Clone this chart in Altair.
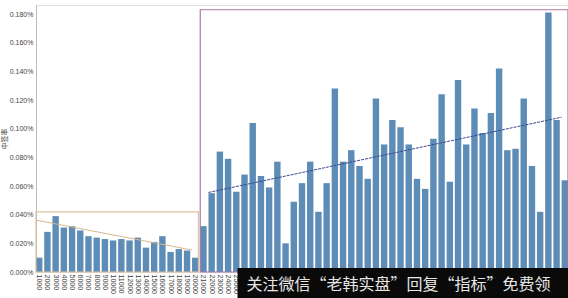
import altair as alt
import pandas as pd

categories = ["1000", "2000", "3000", "4000", "5000", "6000", "7000", "8000", "9000", "10000",
              "11000", "12000", "13000", "14000", "15000", "16000", "17000", "18000", "19000", "20000",
              "21000", "22000", "23000", "24000", "25000", "26000", "27000", "28000", "29000", "30000",
              "31000", "32000", "33000", "34000", "35000", "36000", "37000", "38000", "39000", "40000",
              "41000", "42000", "43000", "44000", "45000", "46000", "47000", "48000", "49000", "50000",
              "51000", "52000", "53000", "54000", "55000", "56000", "57000", "58000", "59000", "60000",
              "61000", "62000", "63000", "64000", "65000"]
# 中签率 in percent
values = [0.010, 0.028, 0.039, 0.031, 0.032, 0.029, 0.025, 0.024, 0.023, 0.022,
          0.023, 0.022, 0.024, 0.017, 0.021, 0.025, 0.014, 0.016, 0.015, 0.010,
          0.032, 0.055, 0.084, 0.079, 0.056, 0.068, 0.104, 0.067, 0.059, 0.077,
          0.020, 0.049, 0.062, 0.077, 0.042, 0.062, 0.128, 0.077, 0.085, 0.074,
          0.065, 0.121, 0.089, 0.106, 0.101, 0.089, 0.065, 0.058, 0.093, 0.124,
          0.063, 0.134, 0.089, 0.114, 0.097, 0.111, 0.142, 0.085, 0.086, 0.121,
          0.074, 0.042, 0.181, 0.106, 0.064]
y_ticks = [0.0, 0.02, 0.04, 0.06, 0.08, 0.10, 0.12, 0.14, 0.16, 0.18]

# highlight boxes (start category, end category, top value)
box_start = ["1000", "21000"]
box_end = ["20000", "65000"]
box_top = [0.042, 0.183]
box_color = ["#dcc29c", "#a97aa8"]

# trend lines
trend_left_x = ["1000", "20000"]
trend_left_y = [0.0362, 0.0153]
trend_right_x = ["22000", "65000"]
trend_right_y = [0.0555, 0.108]

watermark = "关注微信“老韩实盘”回复“指标”免费领"

df = pd.DataFrame({"cat": categories, "v": values})
boxes = pd.DataFrame({"s": box_start, "e": box_end, "top": box_top, "c": box_color, "zero": [0, 0]})
tl = pd.DataFrame({"cat": trend_left_x, "v": trend_left_y})
tr = pd.DataFrame({"cat": trend_right_x, "v": trend_right_y})

xscale = alt.Scale(domain=categories, paddingInner=0.22, paddingOuter=0.0)
yscale = alt.Scale(domain=[0, 0.1863], nice=False)

xaxis = alt.Axis(labelAngle=90, labelFontSize=7, labelColor="#444", ticks=False,
                 domain=False, labelPadding=2, title=None, labelFont="Liberation Sans",
                 labelBaseline="middle", labelAlign="left", labelOverlap=False)
yaxis = alt.Axis(values=y_ticks, tickCount=10, labelExpr="format(datum.value, '.3f') + '%'",
                 labelFontSize=7, labelColor="#444", ticks=False, domainColor="#bbbbbb",
                 grid=False, title="中签率", titleFontSize=7, titleFontWeight="normal",
                 titleColor="#444", titlePadding=2, labelPadding=3, labelFont="Liberation Sans",
                 titleFont="Noto Sans CJK SC", labelOverlap=False, labelBound=False,
                 labelSeparation=0)

bars = alt.Chart(df).mark_bar(color="#5d8cb6").encode(
    x=alt.X("cat:O", scale=xscale, axis=xaxis, sort=categories),
    y=alt.Y("v:Q", scale=yscale, axis=yaxis),
)

rects = alt.Chart(boxes).mark_rect(fill=None, strokeWidth=1.2).encode(
    x=alt.X("s:O", scale=xscale, bandPosition=0, sort=categories, axis=xaxis),
    x2=alt.X2("e", bandPosition=1),
    y=alt.Y("top:Q", scale=yscale, axis=yaxis),
    y2=alt.Y2("zero"),
    stroke=alt.Stroke("c:N", scale=None),
)

line_l = alt.Chart(tl).mark_line(color="#d8b88e", strokeWidth=1).encode(
    x=alt.X("cat:O", scale=xscale, bandPosition=0, sort=categories, axis=xaxis),
    y=alt.Y("v:Q", scale=yscale, axis=yaxis),
)
line_r = alt.Chart(tr).mark_line(color="#3d4790", strokeWidth=1, strokeDash=[3, 1]).encode(
    x=alt.X("cat:O", scale=xscale, bandPosition=0, sort=categories, axis=xaxis),
    y=alt.Y("v:Q", scale=yscale, axis=yaxis),
)

wm_bg = alt.Chart(pd.DataFrame({"a": [0]})).mark_rect(color="#0a0a0a", clip=False).encode(
    x=alt.value(201.5), x2=alt.value(532), y=alt.value(263), y2=alt.value(293)
)
wm_text = alt.Chart(pd.DataFrame({"t": [watermark]})).mark_text(
    align="left", baseline="middle", fontSize=16, color="#e6e6e6",
    font="Noto Sans CJK SC", clip=False
).encode(x=alt.value(210.5), y=alt.value(280), text="t:N")

chart = alt.layer(bars, rects, line_l, line_r, wm_bg, wm_text).properties(
    width=532, height=267,
    autosize=alt.AutoSizeParams(type="none"),
    padding={"left": 36, "top": 5, "right": 0, "bottom": 26},
).configure_view(stroke=None).configure(background="white").configure_axis(
    labelOverlap=False
)

chart.save("out.html", embed_options={"renderer": "svg", "actions": False})
